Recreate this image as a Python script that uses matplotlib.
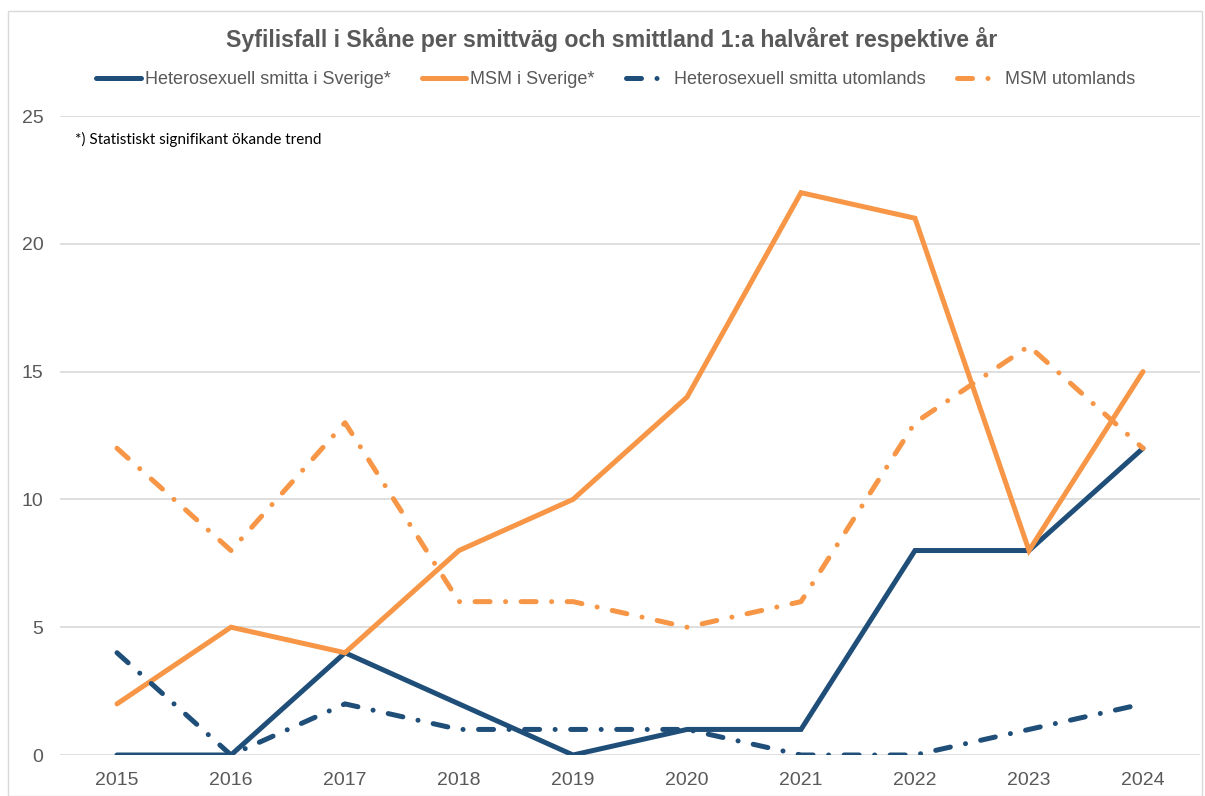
import matplotlib
matplotlib.use("Agg")
import matplotlib.pyplot as plt
from matplotlib.patches import Rectangle

plt.rcParams["font.family"] = ["Liberation Sans", "DejaVu Sans"]

years = [2015, 2016, 2017, 2018, 2019, 2020, 2021, 2022, 2023, 2024]
hetero_sverige = [0, 0, 4, 2, 0, 1, 1, 8, 8, 12]
msm_sverige = [2, 5, 4, 8, 10, 14, 22, 21, 8, 15]
hetero_utomlands = [4, 0, 2, 1, 1, 1, 0, 0, 1, 2]
msm_utomlands = [12, 8, 13, 6, 6, 5, 6, 13, 16, 12]

BLUE = "#1f4e79"
ORANGE = "#f79646"
GREY = "#595959"
DASHDOT = (3, 3.1, 0.01, 3.1)

fig = plt.figure(figsize=(12.05, 7.96), dpi=100)
fig.patches.append(Rectangle((8 / 1205, 0), 1194 / 1205, 785 / 796, transform=fig.transFigure,
                             fill=False, edgecolor="#d9d9d9", lw=1))
ax = fig.add_axes([60 / 1205, 41 / 796, 1140 / 1205, 639 / 796])

x = list(range(len(years)))
ax.plot(x, hetero_sverige, color=BLUE, lw=3.6, solid_capstyle="round", solid_joinstyle="miter",
        label="Heterosexuell smitta i Sverige*", zorder=3)
ax.plot(x, msm_sverige, color=ORANGE, lw=3.6, solid_capstyle="round", solid_joinstyle="miter",
        label="MSM i Sverige*", zorder=3)
ax.plot(x, hetero_utomlands, color=BLUE, lw=3.6, dashes=DASHDOT, dash_capstyle="round",
        label="Heterosexuell smitta utomlands", zorder=3)
ax.plot(x, msm_utomlands, color=ORANGE, lw=3.6, dashes=DASHDOT, dash_capstyle="round",
        label="MSM utomlands", zorder=3)

ax.set_xlim(-0.5, len(years) - 0.5)
ax.set_ylim(0, 25)
ax.set_yticks(range(0, 26, 5))
ax.set_xticks(x)
ax.set_xticklabels([str(y) for y in years])
ax.tick_params(length=0, labelsize=14, colors=GREY)
ax.tick_params(axis="x", pad=12.5)
ax.tick_params(axis="y", pad=12)
ax.grid(axis="y", color="#d9d9d9", lw=1.2)
ax.set_axisbelow(True)
for s in ax.spines.values():
    s.set_visible(False)

fig.text(612 / 1205, 1 - 40 / 796, "Syfilisfall i Skåne per smittväg och smittland 1:a halvåret respektive år",
         ha="center", va="center", fontsize=16.7, fontweight="bold", color=GREY)
fig.legend(loc="center", bbox_to_anchor=(616 / 1205, 1 - 80 / 796), ncol=4, frameon=False,
           fontsize=13, handlelength=2.45, handletextpad=0.25, columnspacing=1.7,
           labelcolor=GREY)
fig.text(75 / 1205, 1 - 139 / 796, "*) Statistiskt signifikant ökande trend",
         ha="left", va="center", fontsize=11, family=["Lato", "DejaVu Sans"], color="black")

fig.savefig("out.png", dpi=100)
